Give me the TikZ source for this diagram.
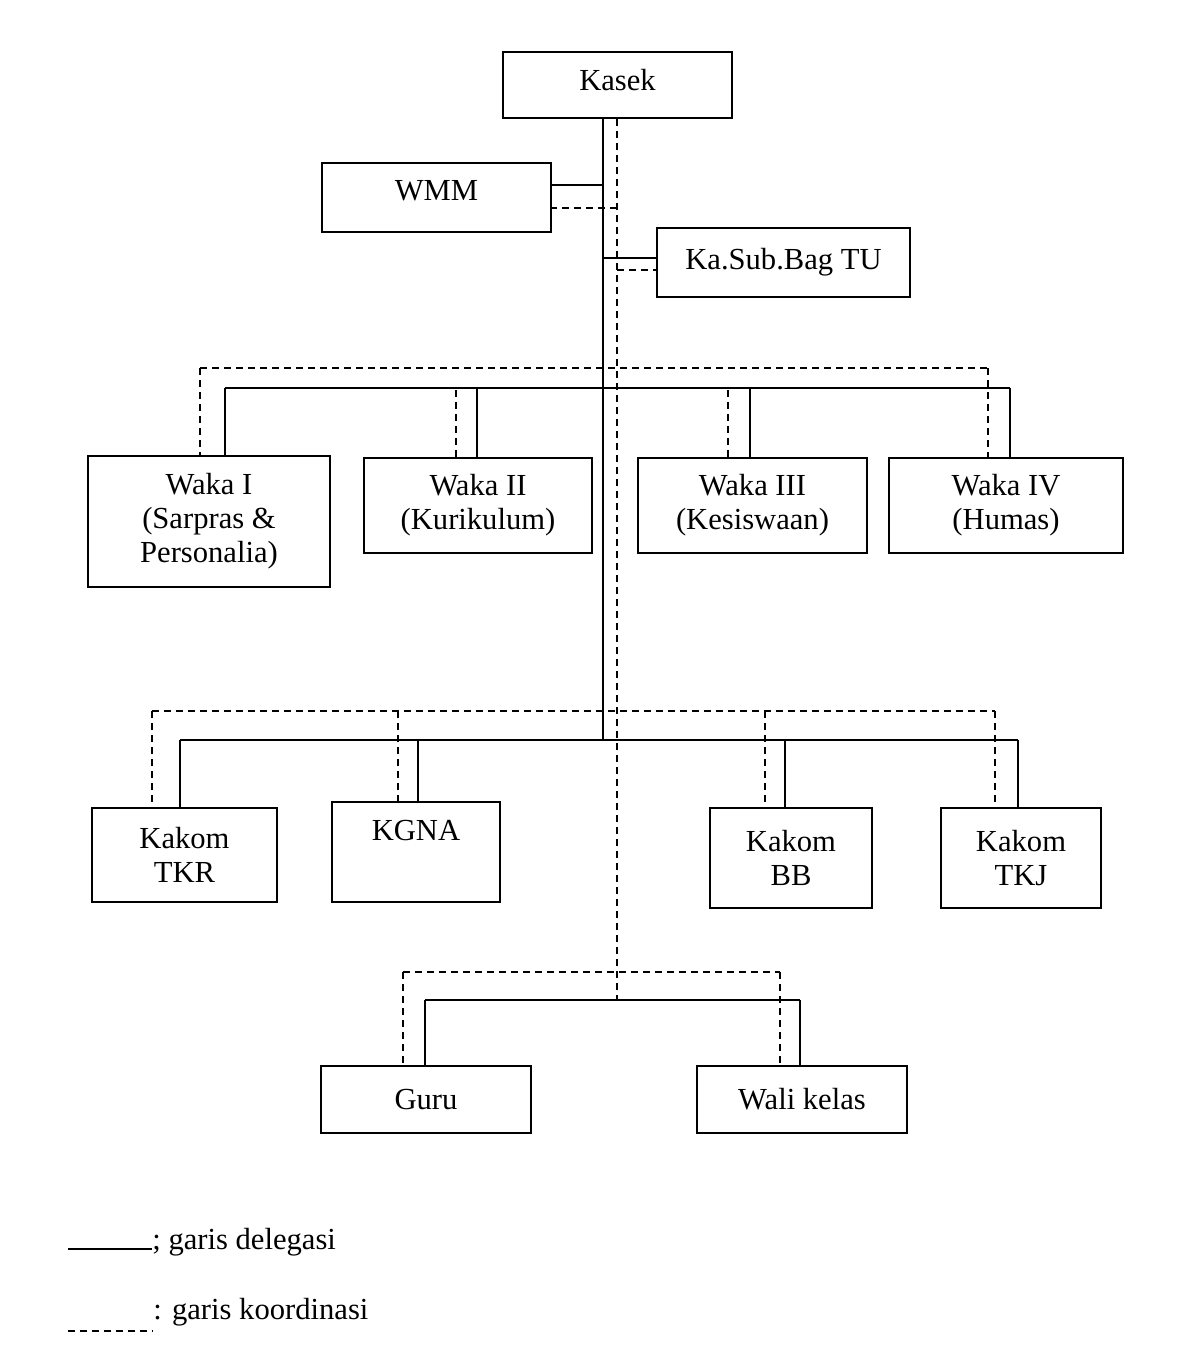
\documentclass[tikz,border=0pt]{standalone}
\usepackage{fontspec}
\setmainfont{Liberation Serif}
\usetikzlibrary{calc,positioning}
\tikzset{
  box/.style={draw, line width=1pt, align=center, inner sep=0pt,
    font=\fontsize{15.3}{17}\selectfont},
  deleg/.style={line width=0.9pt},
  koord/.style={line width=0.9pt, dash pattern=on 3.5pt off 2.5pt},
}
\begin{document}
\begin{tikzpicture}[x=0.5pt,y=-0.5pt]
  \useasboundingbox (0,0) rectangle (1182,1360);
  % boxes
  \node[box, minimum width=114.5pt, minimum height=33pt, text depth=5pt] (kasek) at (617.5,85) {Kasek};
  \node[box, minimum width=114.5pt, minimum height=34.5pt, text depth=7pt] (wmm) at (436.5,197.5) {WMM};
  \node[box, minimum width=126.5pt, minimum height=34.5pt] (tu) at (783.5,262.5) {Ka.Sub.Bag TU};

  \node[box, minimum width=121pt, minimum height=65.5pt] (w1) at (209,521.5) {Waka I\\(Sarpras \&\\Personalia)};
  \node[box, minimum width=114pt, minimum height=47.5pt] (w2) at (478,505.5) {Waka II\\(Kurikulum)};
  \node[box, minimum width=114.5pt, minimum height=47.5pt] (w3) at (752.5,505.5) {Waka III\\(Kesiswaan)};
  \node[box, minimum width=117pt, minimum height=47.5pt] (w4) at (1006,505.5) {Waka IV\\(Humas)};

  \node[box, minimum width=92.5pt, minimum height=47pt] (k1) at (184.5,855) {Kakom\\TKR};
  \node[box, minimum width=84pt, minimum height=50pt] (k2) at (416,852) {KGNA\\\strut};
  \node[box, minimum width=81pt, minimum height=50pt] (k3) at (791,858) {Kakom\\BB};
  \node[box, minimum width=80pt, minimum height=50pt] (k4) at (1021,858) {Kakom\\TKJ};

  \node[box, minimum width=105pt, minimum height=33.5pt] (g1) at (426,1099.5) {Guru};
  \node[box, minimum width=105pt, minimum height=33.5pt] (g2) at (802,1099.5) {Wali kelas};

  % trunk
  \coordinate (ts) at (603,740);
  \coordinate (td) at (617,1000);
  \draw[deleg] (kasek.south -| ts) -- (ts);
  \draw[koord] (kasek.south -| td) -- (td);

  \coordinate (jw) at (603,185);
  \coordinate (jwd) at (617,208);
  \draw[deleg] (jw) -- (jw -| wmm.east);
  \draw[koord] (jwd) -- (jwd -| wmm.east);
  \coordinate (jk) at (603,258);
  \coordinate (jkd) at (617,270);
  \draw[deleg] (jk) -- (jk -| tu.west);
  \draw[koord] (jkd) -- (jkd -| tu.west);

  % waka
  \foreach \n/\xs/\xd/\yd in {w1/225/200/368, w2/477/456/390, w3/750/728/390, w4/1010/988/368}{
    \coordinate (s\n) at (\xs,388);
    \coordinate (d\n) at (\xd,\yd);
    \draw[deleg] (s\n) -- (s\n |- \n.north);
    \draw[koord] (d\n) -- (d\n |- \n.north);
  }
  \draw[deleg] (sw1) -- (sw4);
  \draw[koord] (dw1) -- (dw4);

  % kakom
  \foreach \n/\xs/\xd in {k1/180/152, k2/418/398, k3/785/765, k4/1018/995}{
    \coordinate (s\n) at (\xs,740);
    \coordinate (d\n) at (\xd,711);
    \draw[deleg] (s\n) -- (s\n |- \n.north);
    \draw[koord] (d\n) -- (d\n |- \n.north);
  }
  \draw[deleg] (sk1) -- (sk4);
  \draw[koord] (dk1) -- (dk4);

  % guru
  \foreach \n/\xs/\xd in {g1/425/403, g2/800/780}{
    \coordinate (s\n) at (\xs,1000);
    \coordinate (d\n) at (\xd,972);
    \draw[deleg] (s\n) -- (s\n |- \n.north);
    \draw[koord] (d\n) -- (d\n |- \n.north);
  }
  \draw[deleg] (sg1) -- (sg2);
  \draw[koord] (dg1) -- (dg2);

  % legend
  \node[anchor=base west, font=\fontsize{15.3}{17}\selectfont, inner sep=0pt] (ld) at (152,1249) {; garis delegasi};
  \node[anchor=base west, font=\fontsize{15.3}{17}\selectfont, inner sep=0pt] (lk) at (153,1319) {: garis koordinasi};
  \coordinate (l1) at (68,1249);
  \coordinate (l2) at (68,1331);
  \draw[deleg] (l1) -- (l1 -| ld.west);
  \draw[koord] (l2) -- (l2 -| lk.west);
\end{tikzpicture}
\end{document}
